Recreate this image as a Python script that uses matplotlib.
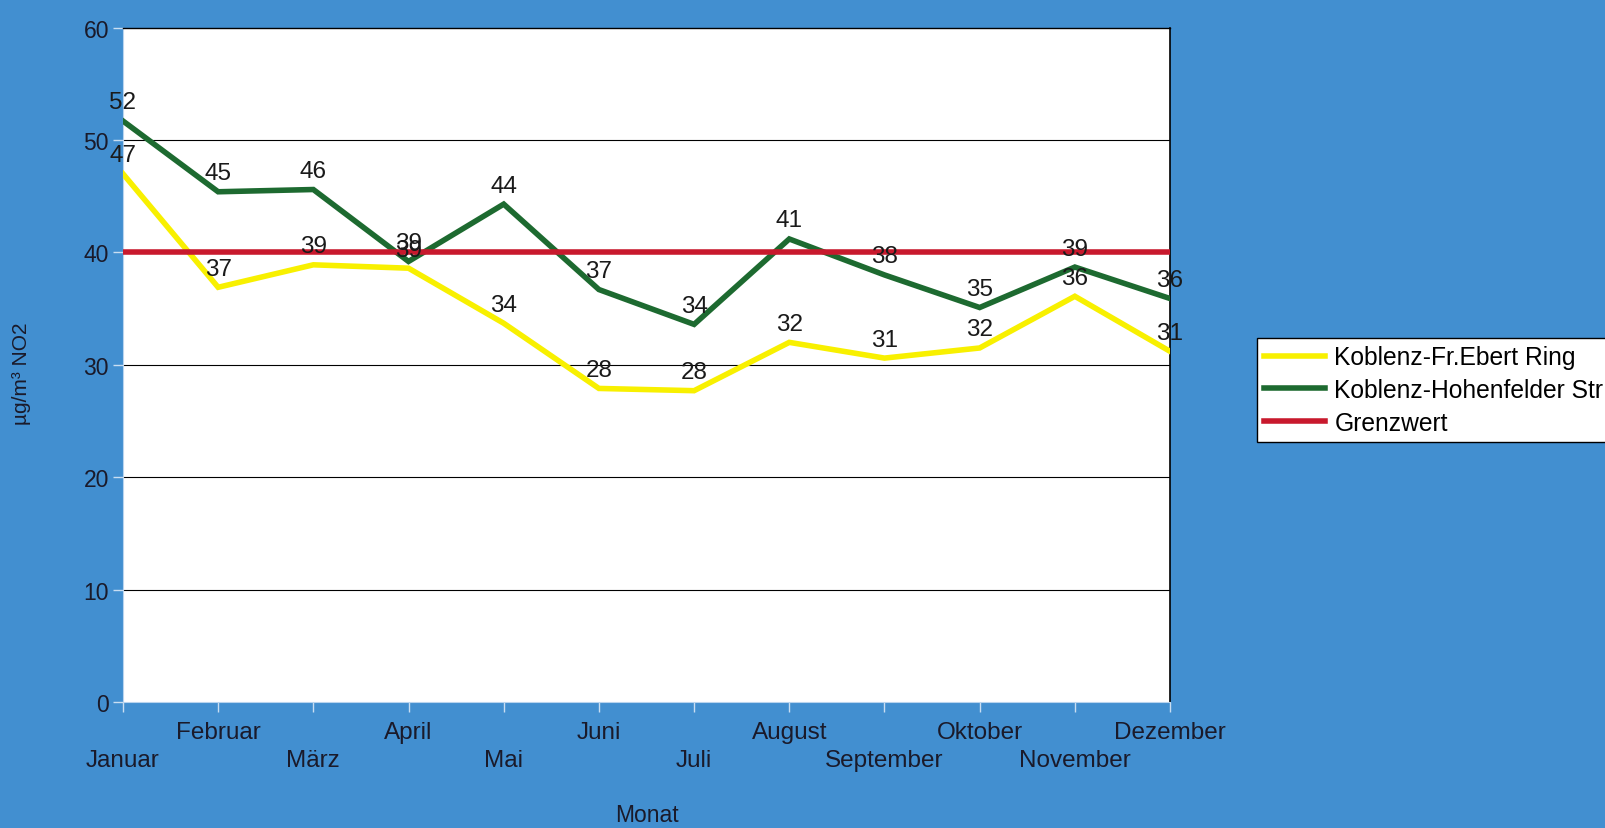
import matplotlib
matplotlib.use("Agg")
import matplotlib.pyplot as plt

months = ["Januar", "Februar", "März", "April", "Mai", "Juni", "Juli",
          "August", "September", "Oktober", "November", "Dezember"]
ebert_ring = [47.0, 36.9, 38.9, 38.6, 33.7, 27.9, 27.7, 32.0, 30.6, 31.5, 36.1, 31.2]
hohenfelder = [51.7, 45.4, 45.6, 39.2, 44.3, 36.7, 33.6, 41.2, 38.0, 35.1, 38.7, 35.9]
grenzwert = [40] * 12
series_names = ["Koblenz-Fr.Ebert Ring", "Koblenz-Hohenfelder Str", "Grenzwert"]
y_ticks = [0, 10, 20, 30, 40, 50, 60]

BG = "#428fd0"
plt.rcParams["font.family"] = ["Liberation Sans", "DejaVu Sans"]

fig = plt.figure(figsize=(16.05, 8.29), dpi=100, facecolor=BG)
ax = fig.add_axes([0.0766, 0.152, 0.729 - 0.0766, 0.9654 - 0.152])
ax.set_facecolor("white")

x = list(range(len(months)))
l1, = ax.plot(x, ebert_ring, color="#f8f000", lw=4, solid_joinstyle="miter", zorder=3)
l2, = ax.plot(x, hohenfelder, color="#1d6a30", lw=4, solid_joinstyle="miter", zorder=3)
l3, = ax.plot(x, grenzwert, color="#c8192d", lw=4, zorder=4)

for series in (ebert_ring, hohenfelder):
    for xi, v in zip(x, series):
        ax.annotate(f"{round(v):d}", xy=(xi, v), xytext=(0, 9), textcoords="offset points",
                    ha="center", va="baseline", fontsize=17.5, color="#1a1a1a", zorder=6)

ax.set_xlim(0, 11)
ax.set_ylim(0, 60)
ax.set_yticks(y_ticks)
ax.set_xticks(x)
ax.set_xticklabels(months, fontsize=17.5, color="#1a1a2a")
ax.tick_params(axis="y", labelsize=16.5, colors="#c9def2", labelcolor="#1a1a2a",
               length=7, width=1, pad=3, direction="out")
ax.tick_params(axis="x", colors="#c9def2", labelcolor="#1a1a2a",
               length=7, width=1, direction="out")
for i, tick in enumerate(ax.xaxis.get_major_ticks()):
    tick.set_pad(7 if i % 2 == 1 else 26.5)

for yv in y_ticks[1:-1]:
    ax.axhline(yv, color="black", lw=0.8, zorder=1)

ax.spines["top"].set_color("black")
ax.spines["top"].set_linewidth(1)
ax.spines["right"].set_color("black")
ax.spines["right"].set_linewidth(1.2)
ax.spines["left"].set_color("#b9d4ee")
ax.spines["bottom"].set_color("#b9d4ee")

ax.set_ylabel("µg/m³ NO2", fontsize=15, color="#1a1a2a")
ax.yaxis.set_label_coords(31 / 1605, 1 - 374 / 829, transform=fig.transFigure)

fig.text(647 / 1605, 1 - 816 / 829, "Monat", fontsize=16.5, color="#1a1a2a",
         ha="center", va="center")

leg = ax.legend([l1, l2, l3], series_names, loc="upper left",
                bbox_to_anchor=(1257 / 1605, 1 - 339 / 829), bbox_transform=fig.transFigure,
                borderaxespad=0, fontsize=17.7, frameon=True, fancybox=False,
                framealpha=1, edgecolor="black", handlelength=2.45, handletextpad=0.4,
                labelspacing=0.35, borderpad=0.3)
leg.get_frame().set_linewidth(1)

fig.savefig("out.png", dpi=100, facecolor=BG)
